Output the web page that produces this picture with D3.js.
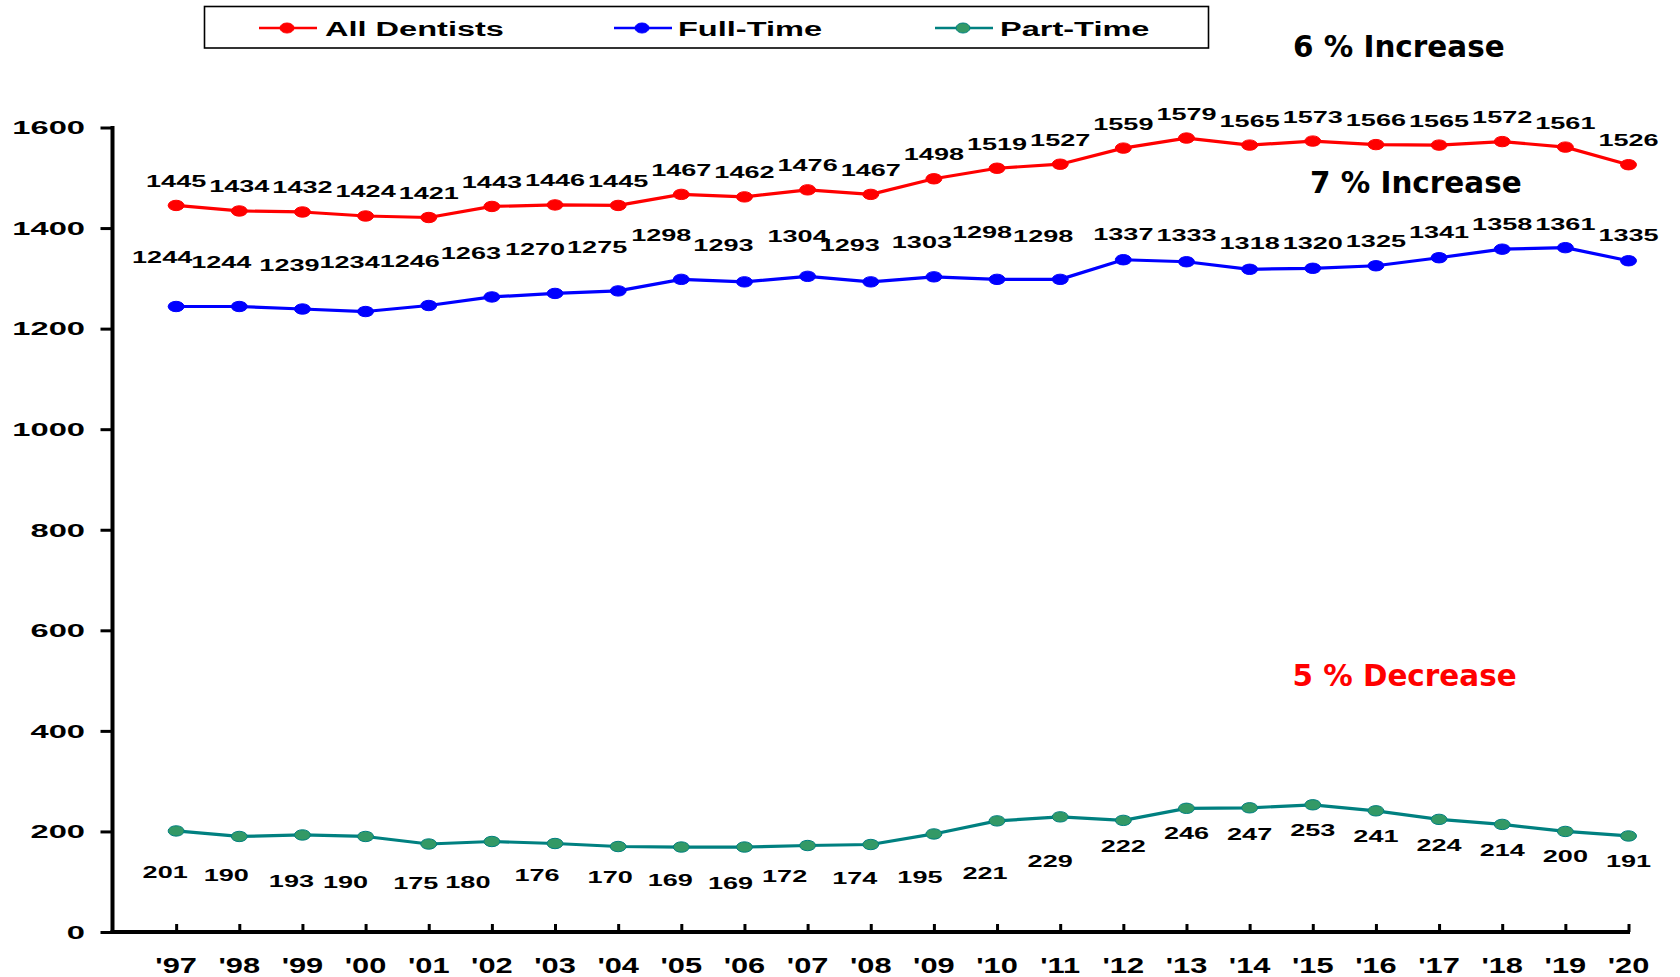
<!DOCTYPE html>
<html>
<head>
<meta charset="utf-8">
<script src="https://cdn.jsdelivr.net/npm/d3@7/dist/d3.min.js"></script>
<style>
  html, body { margin: 0; padding: 0; background: #fff; }
  svg { display: block; }
</style>
</head>
<body>
<svg id="chart" width="1680" height="977"></svg>
<script>
// Dentist counts by year
const years = ["'97","'98","'99","'00","'01","'02","'03","'04","'05","'06","'07","'08",
               "'09","'10","'11","'12","'13","'14","'15","'16","'17","'18","'19","'20"];
const allDentists = [1445,1434,1432,1424,1421,1443,1446,1445,1467,1462,1476,1467,
                     1498,1519,1527,1559,1579,1565,1573,1566,1565,1572,1561,1526];
const fullTime = [1244,1244,1239,1234,1246,1263,1270,1275,1298,1293,1304,1293,
                  1303,1298,1298,1337,1333,1318,1320,1325,1341,1358,1361,1335];
const partTime = [201,190,193,190,175,180,176,170,169,169,172,174,
                  195,221,229,222,246,247,253,241,224,214,200,191];
const yTicks = [0,200,400,600,800,1000,1200,1400,1600];
const seriesNames = ["All Dentists","Full-Time","Part-Time"];
const notes = ["6 % Increase","7 % Increase","5 % Decrease"];

// Hand-placed label nudges (px) relative to each point
const fullLabelDx = [-14,-18,-13,-16,-19,-21,-20,-21,-20,-21,-10,-21,-12,-15,-17,0,0,0,0,0,0,0,0,0];
const fullLabelDy = [-49,-44,-44,-49,-44,-44,-44,-44,-44,-37,-40,-37,-35,-47,-43,-26,-27,-26,-25,-25,-26,-25,-24,-26];
const partLabelDx = [-11,-13,-11,-20,-13,-24,-18,-8,-11,-14,-23,-16,-14,-12,-10,0,0,0,0,0,0,0,0,0];
const partLabelDy = [41,39,46,46,39,41,32,31,33,36,31,34,43,52,44,26,25,26,25,25,26,26,25,25];

const svg = d3.select("#chart");
const FONT = "'Liberation Sans', Arial, sans-serif";
const NOTE_FONT = "'DejaVu Sans', Verdana, sans-serif";

const x = d3.scaleLinear().domain([-1, years.length - 1]).range([113, 1628.5]);
const y = d3.scaleLinear().domain([0, 1600]).range([932, 127.5]);

// Horizontally stretched bold text, anchored at (px, py)
function wideText(parent, px, py, str, size, sx, anchor, fill) {
  return parent.append("text")
    .attr("transform", `translate(${px},${py}) scale(${sx},1)`)
    .attr("text-anchor", anchor || "middle")
    .attr("dy", "0.36em")
    .attr("font-family", FONT)
    .attr("font-weight", "bold")
    .attr("font-size", size)
    .attr("fill", fill || "#000")
    .text(str);
}

// Y axis
const yAxis = d3.axisLeft(y).tickValues(yTicks).tickSize(12).tickFormat("");
const gy = svg.append("g").attr("transform", "translate(112.5,0)").call(yAxis);
gy.select(".domain").remove();
gy.selectAll(".tick line").attr("stroke", "#000").attr("stroke-width", 3);
svg.append("line").attr("x1", 112.5).attr("x2", 112.5)
  .attr("y1", y(1600) - 1.5).attr("y2", y(0) + 2)
  .attr("stroke", "#000").attr("stroke-width", 4);
yTicks.forEach(t => wideText(svg, 85, y(t), d3.format("d")(t), 19, 1.72, "end"));

// X axis
const xAxis = d3.axisBottom(x).tickValues(d3.range(years.length)).tickSize(-8).tickFormat("");
const gx = svg.append("g").attr("transform", `translate(0,${y(0)})`).call(xAxis);
gx.select(".domain").remove();
gx.selectAll(".tick line").attr("stroke", "#000").attr("stroke-width", 3);
svg.append("line").attr("x1", 110.5).attr("x2", x(years.length - 1) + 1.5)
  .attr("y1", y(0)).attr("y2", y(0))
  .attr("stroke", "#000").attr("stroke-width", 4);
years.forEach((yr, i) => wideText(svg, x(i), 965, yr, 22, 1.4, "middle"));

// Series
const series = [
  { name: seriesNames[0], values: allDentists, line: "#ff0000", fill: "#ff0000",
    dx: () => 0, dy: () => -24.5 },
  { name: seriesNames[1], values: fullTime, line: "#0000ff", fill: "#0000ff",
    dx: i => fullLabelDx[i], dy: i => fullLabelDy[i] },
  { name: seriesNames[2], values: partTime, line: "#008080", fill: "#339966",
    dx: i => partLabelDx[i], dy: i => partLabelDy[i] }
];

const line = d3.line().x((d, i) => x(i)).y(d => y(d));

series.forEach(s => {
  const g = svg.append("g");
  g.append("path").datum(s.values)
    .attr("d", line).attr("fill", "none")
    .attr("stroke", s.line).attr("stroke-width", 3.2)
    .attr("stroke-linejoin", "round");
  g.selectAll("ellipse").data(s.values).join("ellipse")
    .attr("cx", (d, i) => x(i)).attr("cy", d => y(d))
    .attr("rx", 8).attr("ry", 5.2)
    .attr("fill", s.fill).attr("stroke", s.line).attr("stroke-width", 1);
  s.values.forEach((v, i) => {
    wideText(g, x(i) + s.dx(i), y(v) + s.dy(i), String(v), 16.5, 1.64, "middle");
  });
});

// Legend
const legend = svg.append("g");
legend.append("rect").attr("x", 204.5).attr("y", 6.5).attr("width", 1004).attr("height", 41.5)
  .attr("fill", "#fff").attr("stroke", "#000").attr("stroke-width", 1.6);
const legendPos = [{ x1: 259, text: 325 }, { x1: 614, text: 678 }, { x1: 935, text: 1000 }];
series.forEach((s, i) => {
  const p = legendPos[i];
  legend.append("line").attr("x1", p.x1).attr("x2", p.x1 + 58).attr("y1", 28).attr("y2", 28)
    .attr("stroke", s.line).attr("stroke-width", 2.6);
  legend.append("ellipse").attr("cx", p.x1 + 28).attr("cy", 28).attr("rx", 7).attr("ry", 5)
    .attr("fill", s.fill).attr("stroke", s.line).attr("stroke-width", 1);
  wideText(legend, p.text, 28.5, s.name, 21, 1.55, "start");
});

// Change notes
const notePos = [
  { x: 1293, y: 56.5, color: "#000" },
  { x: 1310, y: 193, color: "#000" },
  { x: 1292.5, y: 686, color: "#ff0000" }
];
notes.forEach((t, i) => {
  const p = notePos[i];
  svg.append("text")
    .attr("transform", `translate(${p.x},${p.y}) scale(0.95,1)`)
    .attr("font-family", NOTE_FONT).attr("font-weight", "bold")
    .attr("font-size", 31).attr("fill", p.color)
    .text(t);
});
</script>
</body>
</html>
